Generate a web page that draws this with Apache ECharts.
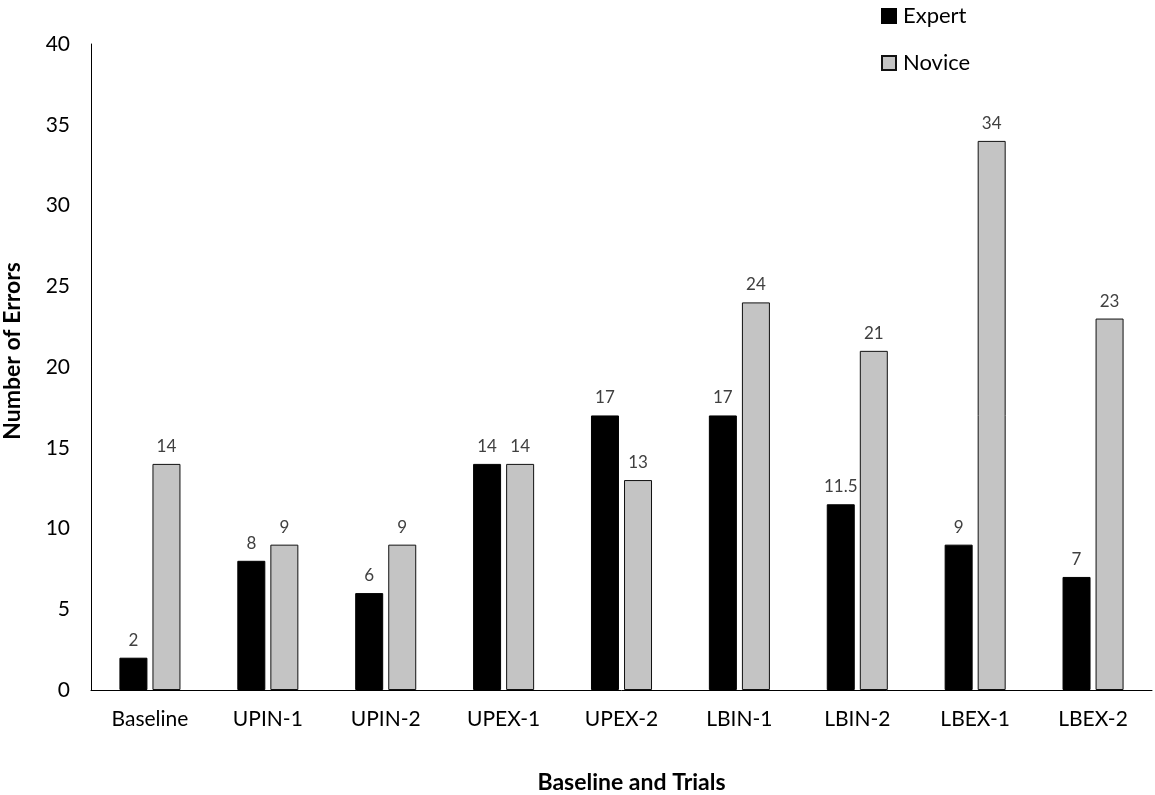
<!DOCTYPE html>
<html lang="en">
<head>
    <meta charset="UTF-8">
    <title>Number of Errors</title>
    <script src="https://cdn.jsdelivr.net/npm/echarts@6/dist/echarts.min.js"></script>
    <style>
        html, body { margin: 0; padding: 0; background: #fff; }
    </style>
</head>
<body>
<div id="main" style="width: 1155px;height:795px;"></div>
<script>
    // data
    var categories = ['Baseline', 'UPIN-1', 'UPIN-2', 'UPEX-1', 'UPEX-2', 'LBIN-1', 'LBIN-2', 'LBEX-1', 'LBEX-2'];
    var expert = [2, 8, 6, 14, 17, 17, 11.5, 9, 7];
    var novice = [14, 9, 9, 14, 13, 24, 21, 34, 23];
    var yTitle = 'Number of Errors';
    var xTitle = 'Baseline and Trials';

    var font = 'Lato, "Open Sans", sans-serif';
    var myChart = echarts.init(document.getElementById('main'));

    var labelStyle = {
        show: true,
        position: 'top',
        distance: 9,
        color: '#404040',
        fontSize: 17,
        fontFamily: font
    };

    var option = {
        animation: false,
        textStyle: { fontFamily: font },
        grid: { left: 91, right: 3, top: 44, bottom: 105, outerBoundsMode: 'none', containLabel: false },
        legend: {
            orient: 'vertical',
            left: 876,
            top: 0,
            icon: 'rect',
            itemWidth: 14,
            itemHeight: 14,
            itemGap: 25,
            textStyle: { fontSize: 22, color: '#000', fontFamily: font, padding: [0, 0, 0, 2] },
            data: ['Expert', 'Novice']
        },
        // y axis title placed by hand, a bit above the plot's centre like the original
        graphic: [{
            type: 'text',
            x: 13,
            y: 351,
            rotation: Math.PI / 2,
            style: {
                text: yTitle,
                fontSize: 23,
                fontWeight: 'bold',
                fontFamily: font,
                fill: '#000',
                align: 'center',
                verticalAlign: 'middle'
            }
        }],
        xAxis: {
            type: 'category',
            data: categories,
            name: xTitle,
            nameLocation: 'middle',
            nameGap: 81,
            nameTextStyle: { fontSize: 23, fontWeight: 'bold', color: '#000', padding: [0, 0, 0, 20] },
            axisLine: { lineStyle: { color: '#000', width: 1 } },
            axisTick: { show: false },
            axisLabel: { fontSize: 21, color: '#000', margin: 19 }
        },
        yAxis: {
            type: 'value',
            min: 0,
            max: 40,
            interval: 5,
            axisLine: { show: true, lineStyle: { color: '#000', width: 1 } },
            axisTick: { show: false },
            splitLine: { show: false },
            axisLabel: { fontSize: 21, color: '#000', margin: 21 }
        },
        series: [
            {
                name: 'Expert',
                type: 'bar',
                data: expert,
                barWidth: 28,
                barGap: '18%',
                itemStyle: { color: '#000', borderColor: '#000', borderWidth: 1 },
                label: labelStyle
            },
            {
                name: 'Novice',
                type: 'bar',
                data: novice,
                barWidth: 28,
                itemStyle: { color: '#c4c4c4', borderColor: '#111', borderWidth: 1 },
                label: labelStyle
            }
        ]
    };
    myChart.setOption(option);
</script>
</body>
</html>
